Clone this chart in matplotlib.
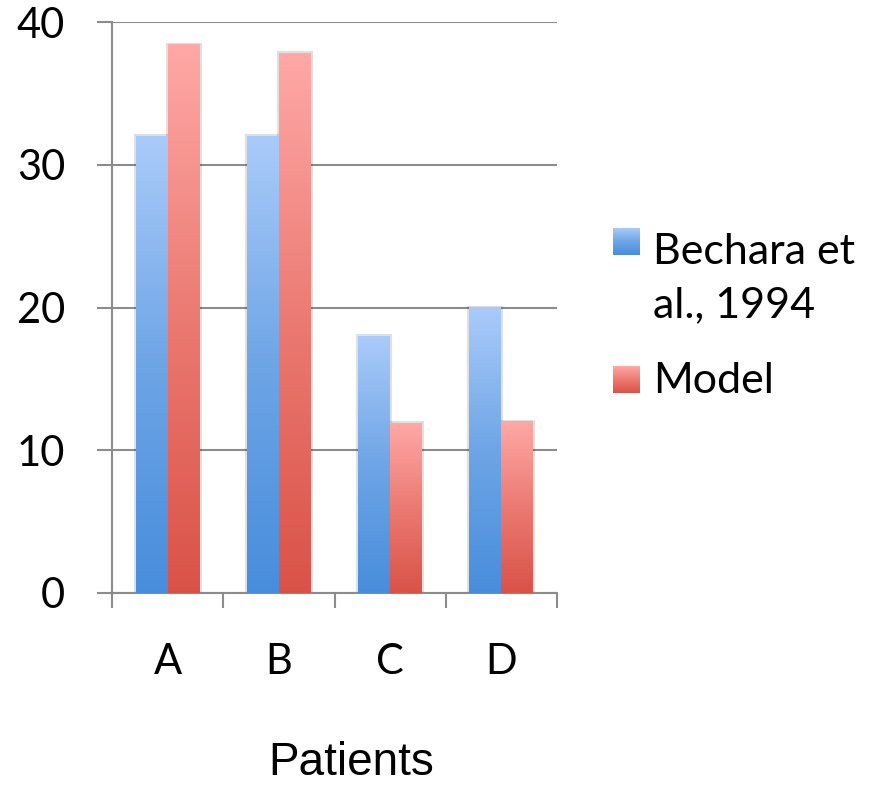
import numpy as np
import matplotlib
matplotlib.use("Agg")
import matplotlib.pyplot as plt
from matplotlib.colors import LinearSegmentedColormap

categories = ["A", "B", "C", "D"]
bechara = [32, 32, 18, 20]
model = [38.4, 37.8, 11.9, 12.0]
legend_labels = ["Bechara et\nal., 1994", "Model"]
yticks = [0, 10, 20, 30, 40]

# bottom -> top gradient colours for each series
blue_cmap = LinearSegmentedColormap.from_list("blue", ["#488ddc", "#6ea5e6", "#aacbfa"])
red_cmap = LinearSegmentedColormap.from_list("red", ["#da5247", "#eb7a72", "#ffa8a6"])

tick_font = "Lato"
grid_col = "#8c8c8c"

fig = plt.figure(figsize=(8.81, 7.85), dpi=100)
ax = fig.add_axes([112 / 881, 1 - 593 / 785, 445 / 881, 571 / 785])

x = np.arange(len(categories))
width = 0.2875
grad = np.linspace(0, 1, 256).reshape(-1, 1)


def gradient_bars(values, offset, cmap):
    bars = ax.bar(x + offset, values, width, facecolor="#bbbbbb",
                  edgecolor=(0, 0, 0, 0.12), linewidth=3, zorder=2)
    for b in bars:
        x0, y0 = b.get_x(), b.get_y()
        ax.imshow(grad, cmap=cmap, origin="lower", aspect="auto",
                  extent=[x0, x0 + b.get_width(), y0, y0 + b.get_height()],
                  zorder=3)
    return bars


gradient_bars(bechara, -width / 2, blue_cmap)
gradient_bars(model, width / 2, red_cmap)

ax.set_xlim(-0.5, len(categories) - 0.5)
ax.set_ylim(0, 40)

ax.yaxis.grid(True, color=grid_col, linewidth=1.5)
ax.set_axisbelow(True)
for s in ["top", "right"]:
    ax.spines[s].set_visible(False)
for s in ["left", "bottom"]:
    ax.spines[s].set_color(grid_col)
    ax.spines[s].set_linewidth(1.5)

ax.set_yticks(yticks)
ax.set_yticklabels([str(v) for v in yticks], fontsize=30, family=tick_font)
ax.tick_params(axis="y", length=10.8, width=1.5, color=grid_col, pad=23)

ax.set_xticks(x)
ax.set_xticklabels(categories, fontsize=30, family=tick_font)
ax.set_xticks(np.arange(len(categories) + 1) - 0.5, minor=True)
ax.tick_params(axis="x", which="major", length=0, pad=36)
ax.tick_params(axis="x", which="minor", length=10.8, width=1.5, color=grid_col)

fig.text(351 / 881, 1 - 775 / 785, "Patients", fontsize=33,
         family="Liberation Sans", ha="center", va="baseline")

# legend drawn by hand: gradient swatch + text (y of last text baseline)
swatches = [(blue_cmap, 228, 317), (red_cmap, 366, 393.3)]
for (cmap, top, base), label in zip(swatches, legend_labels):
    sw = fig.add_axes([613 / 881, 1 - (top + 27) / 785, 27 / 881, 27 / 785])
    sw.imshow(grad, cmap=cmap, origin="lower", aspect="auto")
    sw.set_axis_off()
    fig.text(653 / 881, 1 - base / 785, label, fontsize=31, family=tick_font,
             ha="left", va="baseline", linespacing=1.5)

fig.savefig("out.png", dpi=100)
